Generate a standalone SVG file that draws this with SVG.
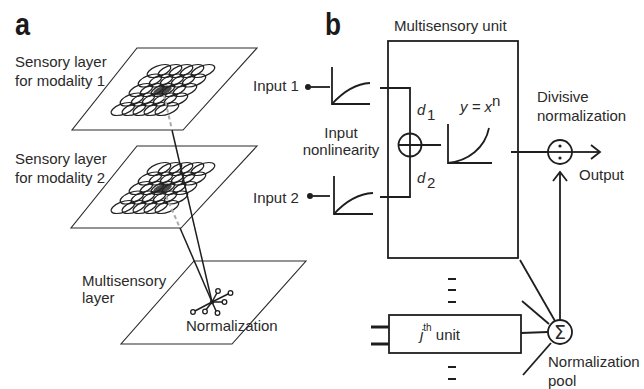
<svg xmlns="http://www.w3.org/2000/svg" xmlns:xlink="http://www.w3.org/1999/xlink" width="644" height="389" viewBox="0 0 644 389">
<style>
text{font-family:"Liberation Sans",Arial,sans-serif;fill:#2a2a2a;font-size:15px}
.lbl{font-weight:bold;font-size:32px;fill:#1a1a1a}
.it{font-style:italic}
.plane{fill:none;stroke:#2a2a2a;stroke-width:1.1}
.ell{fill:none;stroke:#222;stroke-width:1.2}
.ln{fill:none;stroke:#1e1e1e;stroke-width:1.8}
.thin{fill:none;stroke:#1e1e1e;stroke-width:1.5}
.dash{fill:none;stroke:#aaa;stroke-width:2;stroke-dasharray:4 3}
.dsh{stroke:#1e1e1e;stroke-width:2}
.sat{fill:#fff;stroke:#1e1e1e;stroke-width:1.3}
</style>
<defs>
<marker id="chev" viewBox="0 0 12 16" refX="10" refY="8" markerWidth="12" markerHeight="16" markerUnits="userSpaceOnUse" orient="auto">
<path d="M1,1 L10,8 L1,15" fill="none" stroke="#1e1e1e" stroke-width="1.8"/>
</marker>
<g id="row">
<ellipse cx="0" cy="0" rx="10" ry="6.5" class="ell" vector-effect="non-scaling-stroke"/>
<ellipse cx="11" cy="0" rx="10" ry="6.5" class="ell" vector-effect="non-scaling-stroke"/>
<ellipse cx="22" cy="0" rx="10" ry="6.5" class="ell" vector-effect="non-scaling-stroke"/>
<ellipse cx="33" cy="0" rx="10" ry="6.5" class="ell" vector-effect="non-scaling-stroke"/>
<ellipse cx="44" cy="0" rx="10" ry="6.5" class="ell" vector-effect="non-scaling-stroke"/>
</g>
<g id="grid">
<g transform="matrix(1,0,-0.95,1,0,0)">
<ellipse cx="22" cy="19.5" rx="8" ry="5" fill="#2a2a2a" opacity="0.85"/>
<use xlink:href="#row" y="0"/>
<use xlink:href="#row" y="9.5"/>
<use xlink:href="#row" y="19"/>
<use xlink:href="#row" y="28.5"/>
<use xlink:href="#row" y="38"/>
</g>
</g>
</defs>
<rect width="644" height="389" fill="#fff"/>

<!-- panel a -->
<g id="panel-a-label"><text class="lbl" x="15" y="35" textLength="15" lengthAdjust="spacingAndGlyphs">a</text></g>

<g id="layer1">
<polygon class="plane" points="137,48 257,48 183,130 72,130"/>
<use xlink:href="#grid" transform="translate(159,71)"/>
<text x="15" y="67">Sensory layer</text>
<text x="15" y="86">for modality 1</text>
</g>

<g id="layer2">
<polygon class="plane" points="137,146 257,146 181,228 71,228"/>
<use xlink:href="#grid" transform="translate(159,169)"/>
<text x="15" y="164">Sensory layer</text>
<text x="15" y="183">for modality 2</text>
</g>

<g id="layer3">
<polygon class="plane" points="194,261 306,261 232,344 121,344"/>
<text x="82" y="286">Multisensory</text>
<text x="82" y="303">layer</text>
<text x="186" y="331">Normalization</text>
</g>

<g id="connectors-a">
<line class="dash" x1="164" y1="95" x2="172" y2="130"/>
<line class="thin" x1="172" y1="130" x2="212" y2="302"/>
<line class="dash" x1="166" y1="196" x2="180" y2="228"/>
<line class="thin" x1="180" y1="228" x2="212" y2="302"/>
</g>

<g id="star">
<g class="thin">
<line x1="212" y1="302" x2="193" y2="312"/>
<line x1="212" y1="302" x2="205" y2="311"/>
<line x1="212" y1="302" x2="217" y2="313"/>
<line x1="212" y1="302" x2="224" y2="302"/>
<line x1="212" y1="302" x2="230" y2="293"/>
<line x1="212" y1="302" x2="218" y2="291"/>
</g>
<circle cx="212" cy="302" r="2.2" fill="#1e1e1e"/>
<circle class="sat" cx="193" cy="312" r="2.3"/>
<circle class="sat" cx="205" cy="311.5" r="2.3"/>
<circle class="sat" cx="217.5" cy="313" r="2.3"/>
<circle class="sat" cx="224.5" cy="302" r="2.3"/>
<circle class="sat" cx="230.5" cy="293" r="2.3"/>
<circle class="sat" cx="218" cy="291" r="2.3"/>
</g>

<!-- panel b -->
<g id="panel-b-label"><text class="lbl" x="325" y="35" textLength="16" lengthAdjust="spacingAndGlyphs">b</text></g>

<g id="unit-box">
<rect class="ln" x="388" y="41" width="130" height="217"/>
<text x="394" y="31">Multisensory unit</text>
</g>

<g id="input1">
<text x="253" y="91">Input 1</text>
<circle cx="308" cy="87" r="3" fill="#1e1e1e"/>
</g>
<g id="input2">
<text x="253" y="203">Input 2</text>
<circle cx="310" cy="196" r="3" fill="#1e1e1e"/>
</g>

<g id="nonlin1">
<path class="ln" d="M332,67 V104 H370"/>
<path class="ln" d="M332,104 C342,93 354,84 370,83"/>
</g>
<g id="nonlin2">
<path class="ln" d="M334,176 V214 H373"/>
<path class="ln" d="M334,214 C344,203 356,194 373,193"/>
</g>
<text x="341" y="138" text-anchor="middle">Input</text>
<text x="341" y="155" text-anchor="middle">nonlinearity</text>

<g id="sum">
<circle class="ln" cx="410" cy="145" r="11.5"/>
</g>
<text class="it" x="417" y="115">d</text><text x="427" y="120" font-size="10">1</text>
<text class="it" x="417" y="183">d</text><text x="427" y="188" font-size="10">2</text>

<g id="power">
<path class="ln" d="M448,124 V163 H492"/>
<path class="ln" d="M448,163 C468,161 485,148 489,128"/>
<text class="it" x="460" y="112" font-size="14">y = x</text><text x="492" y="106" font-size="10">n</text>
</g>

<g id="divide">
<circle class="ln" cx="560" cy="152" r="12"/>
<circle cx="560" cy="146" r="1.6" fill="#1e1e1e"/>
<circle cx="560" cy="158" r="1.6" fill="#1e1e1e"/>
<text x="537" y="102">Divisive</text>
<text x="537" y="121">normalization</text>
<text x="579" y="180">Output</text>
</g>

<g id="jth-unit">
<rect class="ln" x="389" y="315" width="132" height="38"/>
<line x1="371" y1="327" x2="389" y2="327" stroke="#1e1e1e" stroke-width="3"/>
<line x1="371" y1="344" x2="389" y2="344" stroke="#1e1e1e" stroke-width="3"/>
<text x="420" y="340"><tspan class="it">j</tspan><tspan font-size="10" dy="-9">th</tspan><tspan dy="9"> unit</tspan></text>
</g>

<g id="pool">
<circle class="ln" cx="560" cy="332" r="12"/>
<text x="560" y="339" text-anchor="middle" style="font-size:19px;font-family:'DejaVu Sans',sans-serif">Σ</text>
<text x="548" y="367">Normalization</text>
<text x="548" y="386">pool</text>
</g>

<g id="dots">
<line class="dsh" x1="448" y1="279" x2="456" y2="279"/>
<line class="dsh" x1="448" y1="290" x2="456" y2="290"/>
<line class="dsh" x1="448" y1="302" x2="456" y2="302"/>
<line class="dsh" x1="448" y1="367" x2="456" y2="367"/>
<line class="dsh" x1="448" y1="379" x2="456" y2="379"/>
</g>

<g id="connectors-b">
<line class="ln" x1="311" y1="87" x2="330" y2="87"/>
<line class="ln" x1="313" y1="196" x2="330" y2="196"/>
<polyline class="ln" points="380,88 410,88 410,197 380,197"/>
<line class="ln" x1="398.5" y1="145" x2="441" y2="145"/>
<line class="ln" x1="511" y1="152" x2="548" y2="152"/>
<line class="ln" x1="548" y1="152" x2="572" y2="152"/>
<line class="ln" x1="572" y1="152" x2="600" y2="152" marker-end="url(#chev)"/>
<line class="ln" x1="560" y1="320" x2="560" y2="172" marker-end="url(#chev)"/>
<line class="ln" x1="520" y1="260" x2="555" y2="321"/>
<line class="ln" x1="522" y1="301" x2="549" y2="324"/>
<line class="ln" x1="521" y1="333" x2="548" y2="332"/>
<line class="ln" x1="523" y1="375" x2="551" y2="343"/>
</g>
</svg>
